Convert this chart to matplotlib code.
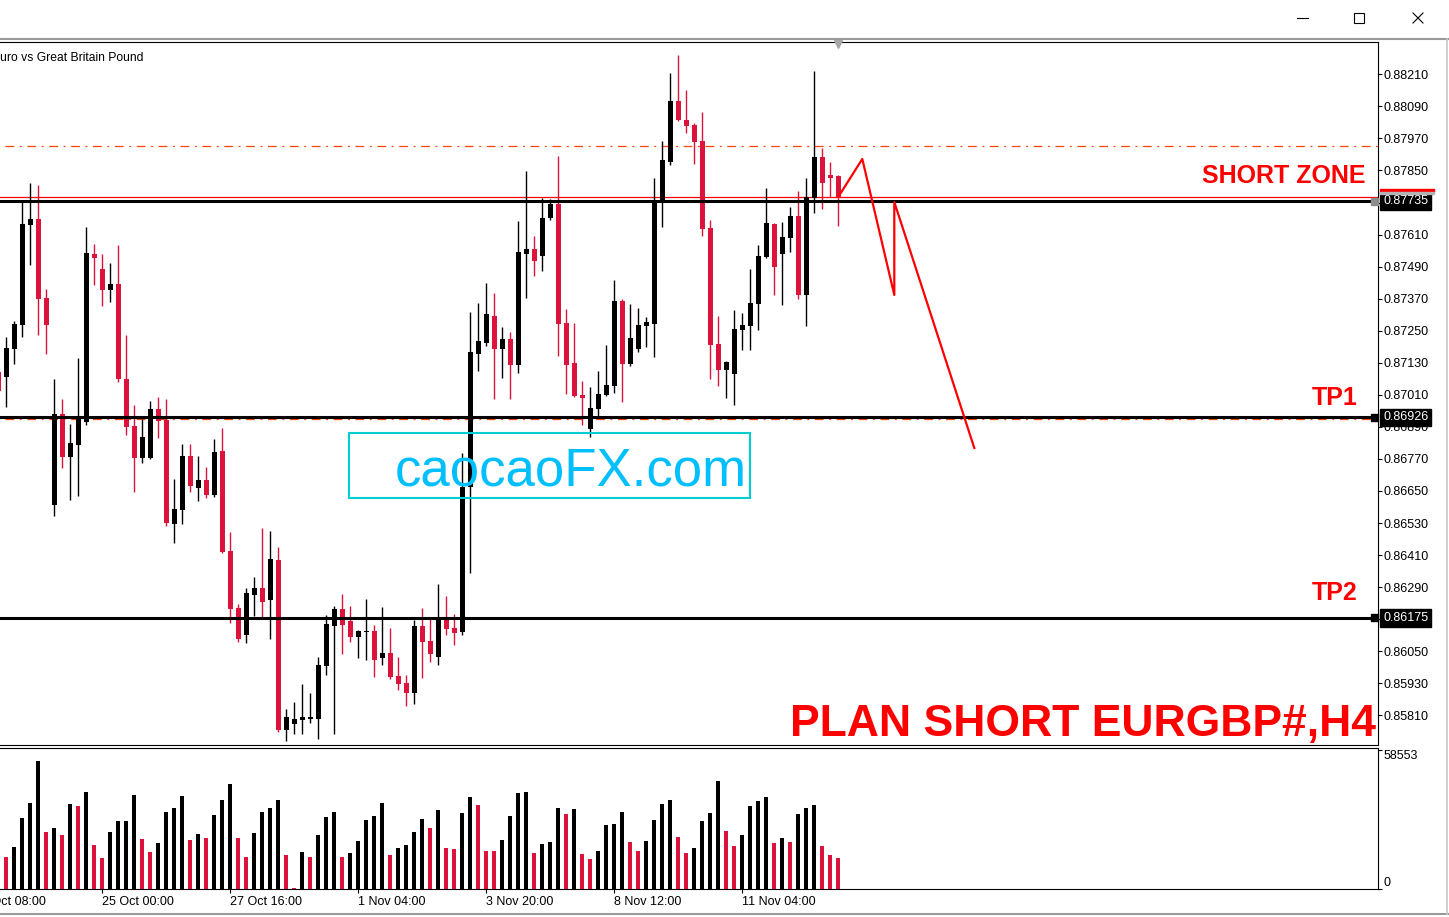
import numpy as np
import matplotlib
matplotlib.use("Agg")
import matplotlib.pyplot as plt
import matplotlib.transforms as mtransforms
from matplotlib.lines import Line2D
from matplotlib.patches import Rectangle

plt.rcParams['font.family'] = ['Liberation Sans', 'DejaVu Sans']

# EURGBP#, H4 -- first candle is cut by the left edge of the window
opens = [0.87095, 0.87077, 0.87182, 0.87271, 0.87646, 0.87668, 0.87372, 0.86597, 0.86938, 0.86777,
         0.86822, 0.86908, 0.87537, 0.87481, 0.87402, 0.87425, 0.87069, 0.86893, 0.86774, 0.86774,
         0.86957, 0.86916, 0.86526, 0.86579, 0.86781, 0.86661, 0.86691, 0.86635, 0.86800, 0.86425,
         0.86212, 0.86111, 0.86261, 0.86287, 0.86242, 0.86392, 0.85755, 0.85778, 0.85793, 0.85796,
         0.85796, 0.85995, 0.86144, 0.86208, 0.86163, 0.86103, 0.86122, 0.86126, 0.86025, 0.86043,
         0.85957, 0.85931, 0.85894, 0.86144, 0.86088, 0.86028, 0.86174, 0.86137, 0.86122, 0.86665,
         0.87163, 0.87204, 0.87305, 0.87182, 0.87219, 0.87122, 0.87537, 0.87556, 0.87530, 0.87672,
         0.87724, 0.87279, 0.87129, 0.87009, 0.86882, 0.86957, 0.87009, 0.87043, 0.87361, 0.87125,
         0.87182, 0.87268, 0.87275, 0.87736, 0.87882, 0.88110, 0.88039, 0.88020, 0.87960, 0.87635,
         0.87200, 0.87103, 0.87088, 0.87253, 0.87268, 0.87350, 0.87526, 0.87650, 0.87537, 0.87597,
         0.87680, 0.87384, 0.87747, 0.87900, 0.87833, 0.87829]
highs = [0.87122, 0.87227, 0.87286, 0.87732, 0.87803, 0.87796, 0.87406, 0.87069, 0.86994, 0.86901,
         0.87148, 0.87638, 0.87575, 0.87537, 0.87504, 0.87571, 0.87234, 0.86972, 0.86919, 0.86987,
         0.87002, 0.86994, 0.86695, 0.86826, 0.86826, 0.86781, 0.86740, 0.86845, 0.86886, 0.86496,
         0.86227, 0.86287, 0.86328, 0.86511, 0.86500, 0.86440, 0.85834, 0.85860, 0.85927, 0.85894,
         0.86028, 0.86186, 0.86219, 0.86264, 0.86219, 0.86129, 0.86246, 0.86148, 0.86216, 0.86137,
         0.86028, 0.85961, 0.86167, 0.86212, 0.86171, 0.86302, 0.86257, 0.86189, 0.86792, 0.87320,
         0.87354, 0.87429, 0.87391, 0.87264, 0.87245, 0.87661, 0.87848, 0.87605, 0.87747, 0.87743,
         0.87904, 0.87331, 0.87279, 0.87062, 0.87039, 0.87099, 0.87197, 0.87440, 0.87369, 0.87350,
         0.87335, 0.87301, 0.87822, 0.87960, 0.88215, 0.88282, 0.88151, 0.88028, 0.88069, 0.87665,
         0.87305, 0.87135, 0.87328, 0.87316, 0.87481, 0.87571, 0.87784, 0.87653, 0.87657, 0.87713,
         0.87773, 0.87822, 0.88222, 0.87934, 0.87882, 0.87833]
lows = [0.87006, 0.86964, 0.87125, 0.87227, 0.87496, 0.87234, 0.87163, 0.86556, 0.86736, 0.86616,
        0.86631, 0.86897, 0.87421, 0.87343, 0.87358, 0.87058, 0.86860, 0.86646, 0.86755, 0.86770,
        0.86848, 0.86519, 0.86455, 0.86526, 0.86646, 0.86612, 0.86624, 0.86627, 0.86418, 0.86156,
        0.86085, 0.86081, 0.86182, 0.86178, 0.86096, 0.85748, 0.85714, 0.85740, 0.85740, 0.85781,
        0.85721, 0.85961, 0.85740, 0.86040, 0.86085, 0.86025, 0.86017, 0.85954, 0.85998, 0.85946,
        0.85905, 0.85845, 0.85852, 0.85950, 0.86010, 0.85998, 0.86111, 0.86073, 0.86111, 0.86343,
        0.87099, 0.87193, 0.86994, 0.87073, 0.86994, 0.87092, 0.87372, 0.87455, 0.87474, 0.87665,
        0.87155, 0.87013, 0.87002, 0.86897, 0.86852, 0.86931, 0.87006, 0.87017, 0.86983, 0.87118,
        0.87170, 0.87189, 0.87152, 0.87638, 0.87870, 0.88037, 0.87990, 0.87874, 0.87605, 0.87069,
        0.87043, 0.86998, 0.86972, 0.87178, 0.87178, 0.87253, 0.87524, 0.87384, 0.87346, 0.87545,
        0.87369, 0.87268, 0.87691, 0.87706, 0.87751, 0.87642]
closes = [0.87024, 0.87185, 0.87275, 0.87650, 0.87668, 0.87369, 0.87271, 0.86938, 0.86777, 0.86830,
          0.86919, 0.87541, 0.87522, 0.87402, 0.87425, 0.87069, 0.86890, 0.86774, 0.86852, 0.86957,
          0.86912, 0.86530, 0.86583, 0.86781, 0.86669, 0.86691, 0.86635, 0.86796, 0.86422, 0.86208,
          0.86096, 0.86268, 0.86287, 0.86234, 0.86395, 0.85755, 0.85804, 0.85796, 0.85804, 0.85804,
          0.85998, 0.86152, 0.86208, 0.86148, 0.86103, 0.86126, 0.86126, 0.86017, 0.86043, 0.85954,
          0.85927, 0.85894, 0.86144, 0.86085, 0.86040, 0.86174, 0.86133, 0.86118, 0.86665, 0.87170,
          0.87212, 0.87313, 0.87182, 0.87219, 0.87122, 0.87545, 0.87556, 0.87511, 0.87672, 0.87724,
          0.87275, 0.87122, 0.87006, 0.86998, 0.86961, 0.87013, 0.87047, 0.87361, 0.87125, 0.87223,
          0.87271, 0.87283, 0.87736, 0.87889, 0.88110, 0.88039, 0.88016, 0.87957, 0.87631, 0.87197,
          0.87103, 0.87133, 0.87256, 0.87271, 0.87354, 0.87530, 0.87653, 0.87489, 0.87601, 0.87680,
          0.87384, 0.87751, 0.87900, 0.87803, 0.87822, 0.87747]
volumes = [18000, 13600, 17820, 30030, 36350, 54040, 24130, 25820, 22870, 35930,
           35090, 40980, 18660, 13180, 24130, 28770, 28800, 39720, 21190, 15710,
           19500, 32560, 34240, 39300, 20770, 23290, 21610, 31300, 37610, 44350,
           21610, 13600, 23710, 32560, 34240, 37610, 14450, 550, 15710, 13600,
           22870, 30450, 32560, 13600, 15290, 20340, 29190, 30870, 36350, 14450,
           17400, 18660, 24130, 29610, 25820, 33400, 17400, 16970, 32140, 38880,
           35510, 16130, 16130, 20770, 30870, 40560, 40980, 15290, 19080, 19920,
           34240, 31720, 33820, 14870, 12760, 16130, 27080, 27500, 32560, 19920,
           16130, 20340, 29190, 35930, 37610, 22030, 15290, 17400, 28770, 32140,
           45620, 24560, 18240, 22870, 35090, 37190, 38880, 19500, 21610, 19920,
           31720, 34240, 35510, 18240, 14450, 13180]
vol_max = 58553

time_ticks = [-4, 12, 28, 44, 60, 76, 92]
time_labels = ["20 Oct 08:00", "25 Oct 00:00", "27 Oct 16:00", "1 Nov 04:00",
               "3 Nov 20:00", "8 Nov 12:00", "11 Nov 04:00"]
price_ticks = [0.88210, 0.88090, 0.87970, 0.87850, 0.87730, 0.87610, 0.87490,
               0.87370, 0.87250, 0.87130, 0.87010, 0.86890, 0.86770, 0.86650,
               0.86530, 0.86410, 0.86290, 0.86170, 0.86050, 0.85930, 0.85810]

short_zone = 0.87735
tp1 = 0.86926
tp2 = 0.86175
bid_price = 0.87752
orange_levels = [0.87942, 0.86918]
plan_x = [104, 107, 111, 111, 121]
plan_y = [0.87751, 0.87893, 0.87384, 0.87732, 0.86811]

BULL = "black"
BEAR = "#DC143C"

W, H = 1449, 917
fig = plt.figure(figsize=(W / 100, H / 100), dpi=100)
fig.patch.set_facecolor("white")


def fx(px):
    return px / W


def fy(py):
    return 1 - py / H


left_px, right_px = -40, 1377.5
ax = fig.add_axes([fx(left_px), fy(745), fx(right_px - left_px), (745 - 42) / H])
axv = fig.add_axes([fx(left_px), fy(889), fx(right_px - left_px), (889 - 748) / H])

x = np.arange(-1, len(opens) - 1)
o, hi, lo, c = map(np.array, (opens, highs, lows, closes))
col = np.where(c >= o, BULL, BEAR)

ax.vlines(x, lo, hi, colors=col, lw=1.0, zorder=3)
ax.bar(x, np.maximum(np.abs(c - o), 0.00003), bottom=np.minimum(o, c),
       width=0.6, color=col, linewidth=0, zorder=3)

x_lim = ((left_px - 6.3) / 8, (right_px - 6.3) / 8)
ax.set_xlim(*x_lim)
ax.set_ylim(0.85699, 0.88331)

# levels
for lv in orange_levels:
    ax.hlines(lv, -0.15, x_lim[1], colors="#FF4500", lw=0.9,
              linestyles=[(0, (7, 4.5, 1.5, 4.5))], zorder=2)
ax.axhline(bid_price, color="red", lw=0.9, zorder=2)
for lv in (short_zone, tp1, tp2):
    ax.axhline(lv, color="black", lw=2.2, zorder=4)

ax.plot(plan_x, plan_y, color="red", lw=1.6, zorder=5)

bold = dict(color="red", fontweight="bold", ha="right", va="baseline", zorder=6)
ax.text(169.9, 0.87803, "SHORT ZONE", fontsize=18, **bold)
ax.text(168.9, 0.86972, "TP1", fontsize=18, **bold)
ax.text(168.9, 0.86242, "TP2", fontsize=18, **bold)
ax.text(171.2, 0.85733, "PLAN SHORT EURGBP#,H4", fontsize=32, **bold)

# watermark
ax.add_patch(Rectangle((42.84, 0.86624), 50.12, 0.00243, fill=False,
                       edgecolor="#00CED1", lw=1.5, zorder=6))
ax.text(48.6, 0.86672, "caocaoFX.com", color="#00BFFF", fontsize=38,
        ha="left", va="baseline", zorder=7)

# price axis
ax.yaxis.tick_right()
ax.set_yticks(price_ticks)
ax.set_yticklabels([f"{p:.5f}" for p in price_ticks])
ax.set_xticks([])
ax.tick_params(axis="y", direction="out", length=3, width=0.8, pad=1.2,
               labelsize=9, colors="black")
for s in ("top", "right", "bottom"):
    ax.spines[s].set_linewidth(0.8)
ax.spines["left"].set_visible(False)


def ax_frac(px):
    return (px - left_px) / (right_px - left_px)


tr = mtransforms.blended_transform_factory(ax.transAxes, ax.transData)
for lv, sq in ((short_zone, "#8C8C8C"), (tp1, "black"), (tp2, "black")):
    ax.text(ax_frac(1383), lv, f"{lv:.5f}", transform=tr, color="white",
            fontsize=9, ha="left", va="center", clip_on=False, zorder=10,
            bbox=dict(boxstyle="square,pad=0.22", fc="black", ec="black"))
    ax.add_patch(Rectangle((ax_frac(1371), lv - 0.00013), ax_frac(1377.5) - ax_frac(1371),
                           0.00026, transform=tr, color=sq, clip_on=False, zorder=10))

fig.add_artist(Rectangle((fx(1380), fy(192)), fx(54), 3 / H, transform=fig.transFigure,
                         color="red", zorder=11))
fig.add_artist(Rectangle((fx(1380), fy(194.5)), fx(54), 2.5 / H, transform=fig.transFigure,
                         color="#B4B4B4", zorder=11))

trt = mtransforms.blended_transform_factory(ax.transData, ax.transAxes)
ax.plot([104], [0.997], marker="v", ms=6, color="#A8A8A8", transform=trt,
        clip_on=False, zorder=10)

# volumes
v = np.array(volumes)
vcol = [BULL] + [BULL if v[i] > v[i - 1] else BEAR for i in range(1, len(v))]
axv.bar(x, v, width=0.5, color=vcol, linewidth=0)
axv.set_xlim(*x_lim)
axv.set_ylim(0, 59390)
axv.yaxis.tick_right()
axv.set_yticks([0, vol_max])
axv.set_yticklabels(["0", str(vol_max)])
for lbl, va in zip(axv.get_yticklabels(), ["bottom", "top"]):
    lbl.set_va(va)
axv.set_xticks(time_ticks)
axv.set_xticklabels(time_labels, ha="left")
axv.tick_params(axis="y", direction="out", length=3, width=0.8, pad=1.2, labelsize=9)
axv.tick_params(axis="x", direction="out", length=3, width=0.8, pad=2.0, labelsize=9)
for s in ("top", "right", "bottom"):
    axv.spines[s].set_linewidth(0.8)
axv.spines["left"].set_visible(False)

fig.text(fx(-8), fy(61), "Euro vs Great Britain Pound", fontsize=8.7, va="baseline")

# window frame
gray = "#9A9A9A"
fig.add_artist(Line2D([0, 1], [fy(39), fy(39)], transform=fig.transFigure, color=gray, lw=1.5))
fig.add_artist(Line2D([0, 1], [fy(913.5), fy(913.5)], transform=fig.transFigure, color=gray, lw=1.5))
fig.add_artist(Line2D([fx(1447), fx(1447)], [fy(39), fy(913.5)], transform=fig.transFigure,
                      color="#C8C8C8", lw=1.2))
fig.add_artist(Line2D([fx(1297), fx(1308)], [fy(18), fy(18)], transform=fig.transFigure,
                      color="black", lw=0.8))
fig.add_artist(Rectangle((fx(1354), fy(23)), fx(10), 10 / H, transform=fig.transFigure,
                         fill=False, ec="black", lw=0.8))
fig.add_artist(Line2D([fx(1413), fx(1423)], [fy(13), fy(23)], transform=fig.transFigure,
                      color="black", lw=0.8))
fig.add_artist(Line2D([fx(1413), fx(1423)], [fy(23), fy(13)], transform=fig.transFigure,
                      color="black", lw=0.8))

fig.savefig("out.png", dpi=100)
